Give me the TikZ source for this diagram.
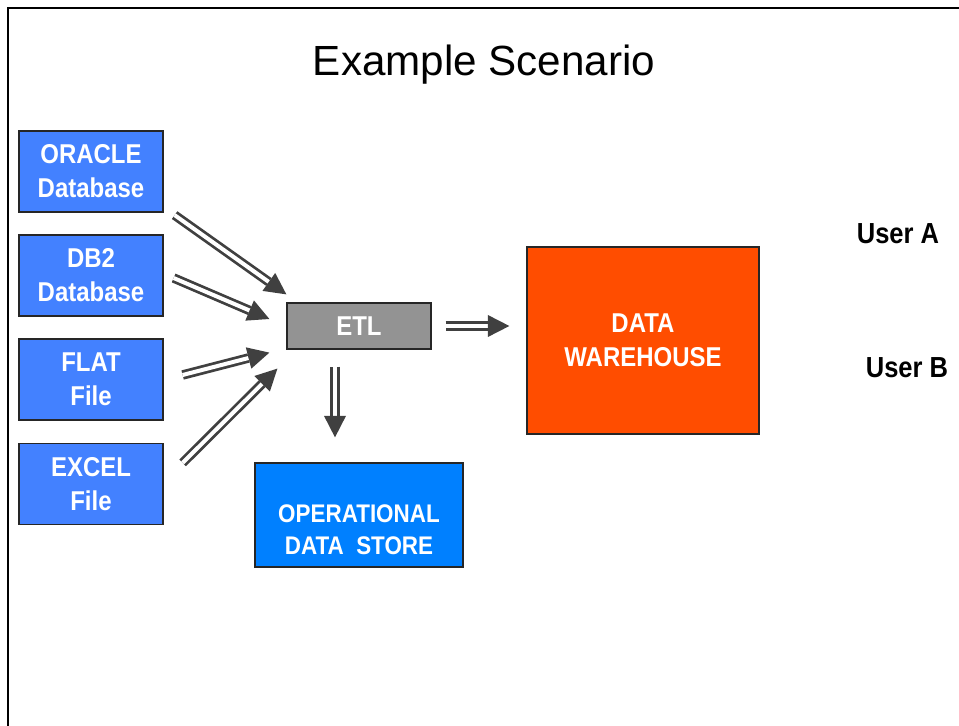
\documentclass[tikz,border=0pt]{standalone}
\usepackage{fontspec}
\setmainfont{Liberation Sans}
\newfontfamily\boxfont[FakeStretch=0.88]{Liberation Sans}
\usetikzlibrary{arrows.meta}
\definecolor{srcblue}{HTML}{4381FF}
\definecolor{odsblue}{HTML}{0080FF}
\definecolor{dworange}{HTML}{FF4D00}
\definecolor{etlgray}{HTML}{939393}
\definecolor{arrowgray}{HTML}{404040}

\begin{document}
\begin{tikzpicture}[
    x=0.2mm, y=-0.2mm,
    box/.style={draw=black!85, line width=0.25mm, text=white, align=center, inner sep=0pt,
      font=\boxfont\bfseries\fontsize{15.5}{19.3}\selectfont},
    source/.style={box, fill=srcblue, minimum width=28.8mm, minimum height=16.2mm},
    flow/.style={draw=arrowgray, line width=0.55mm, double=white, double distance=0.8mm,
      -{Triangle[length=4.3mm, width=4.4mm, line width=0pt]}},
    userlabel/.style={font=\boxfont\bfseries\fontsize{16.5}{20}\selectfont}
  ]
  \useasboundingbox (0,0) rectangle (959,726);
  % Frame
  \draw[line width=0.45mm] (8,726) -- (8,8) -- (959,8);

  % Title
  \node[font=\fontsize{24}{28}\selectfont] (title) at (484,65) {Example Scenario};

  % Sources
  \node[source] (oracle) at (91,171.5) {ORACLE\\Database};
  \node[source] (db2) at (91,275.5) {DB2\\Database};
  \node[source] (flat) at (91,379.5) {FLAT\\File};
  \node[source] (excel) at (91,484) {EXCEL\\File};

  % Targets
  \node[box, fill=etlgray, minimum width=28.8mm, minimum height=9.2mm] (etl) at (359,326) {ETL};
  \node[box, fill=dworange, minimum width=46.4mm, minimum height=37.4mm] (dw) at (643,340.5) {DATA\\WAREHOUSE};
  \node[box, fill=odsblue, minimum width=41.6mm, minimum height=20.8mm] (ods) at (359,515) {};
  \node[box, draw=none, font=\boxfont\bfseries\fontsize{14.5}{18.2}\selectfont] (odstext) at (359,530) {OPERATIONAL\\DATA~~STORE};

  % Users
  \node[userlabel] (usera) at (898,234) {User A};
  \node[userlabel] (userb) at (907,368) {User B};

  % Arrows
  \draw[flow] ([xshift=2.2mm, yshift=-0.5mm]oracle.south east) -- ([yshift=1.6mm]etl.north west);
  \draw[flow] ([xshift=2mm, yshift=-0.5mm]db2.east) -- ([xshift=-3.4mm, yshift=1.4mm]etl.west);
  \draw[flow] ([xshift=3.8mm, yshift=0.9mm]flat.east) -- ([xshift=-3.4mm, yshift=-0.6mm]etl.south west);
  \draw[flow] ([xshift=3.8mm, yshift=-4mm]excel.north east) -- ([xshift=-1.8mm, yshift=-3.8mm]etl.south west);
  \draw[flow, shorten <=2.8mm, shorten >=3.4mm] (etl.east) -- (etl.east -| dw.west);
  \draw[flow, shorten <=3.4mm, shorten >=5mm] ([xshift=-4.8mm]etl.south) -- ([xshift=-4.8mm]ods.north);
\end{tikzpicture}
\end{document}
